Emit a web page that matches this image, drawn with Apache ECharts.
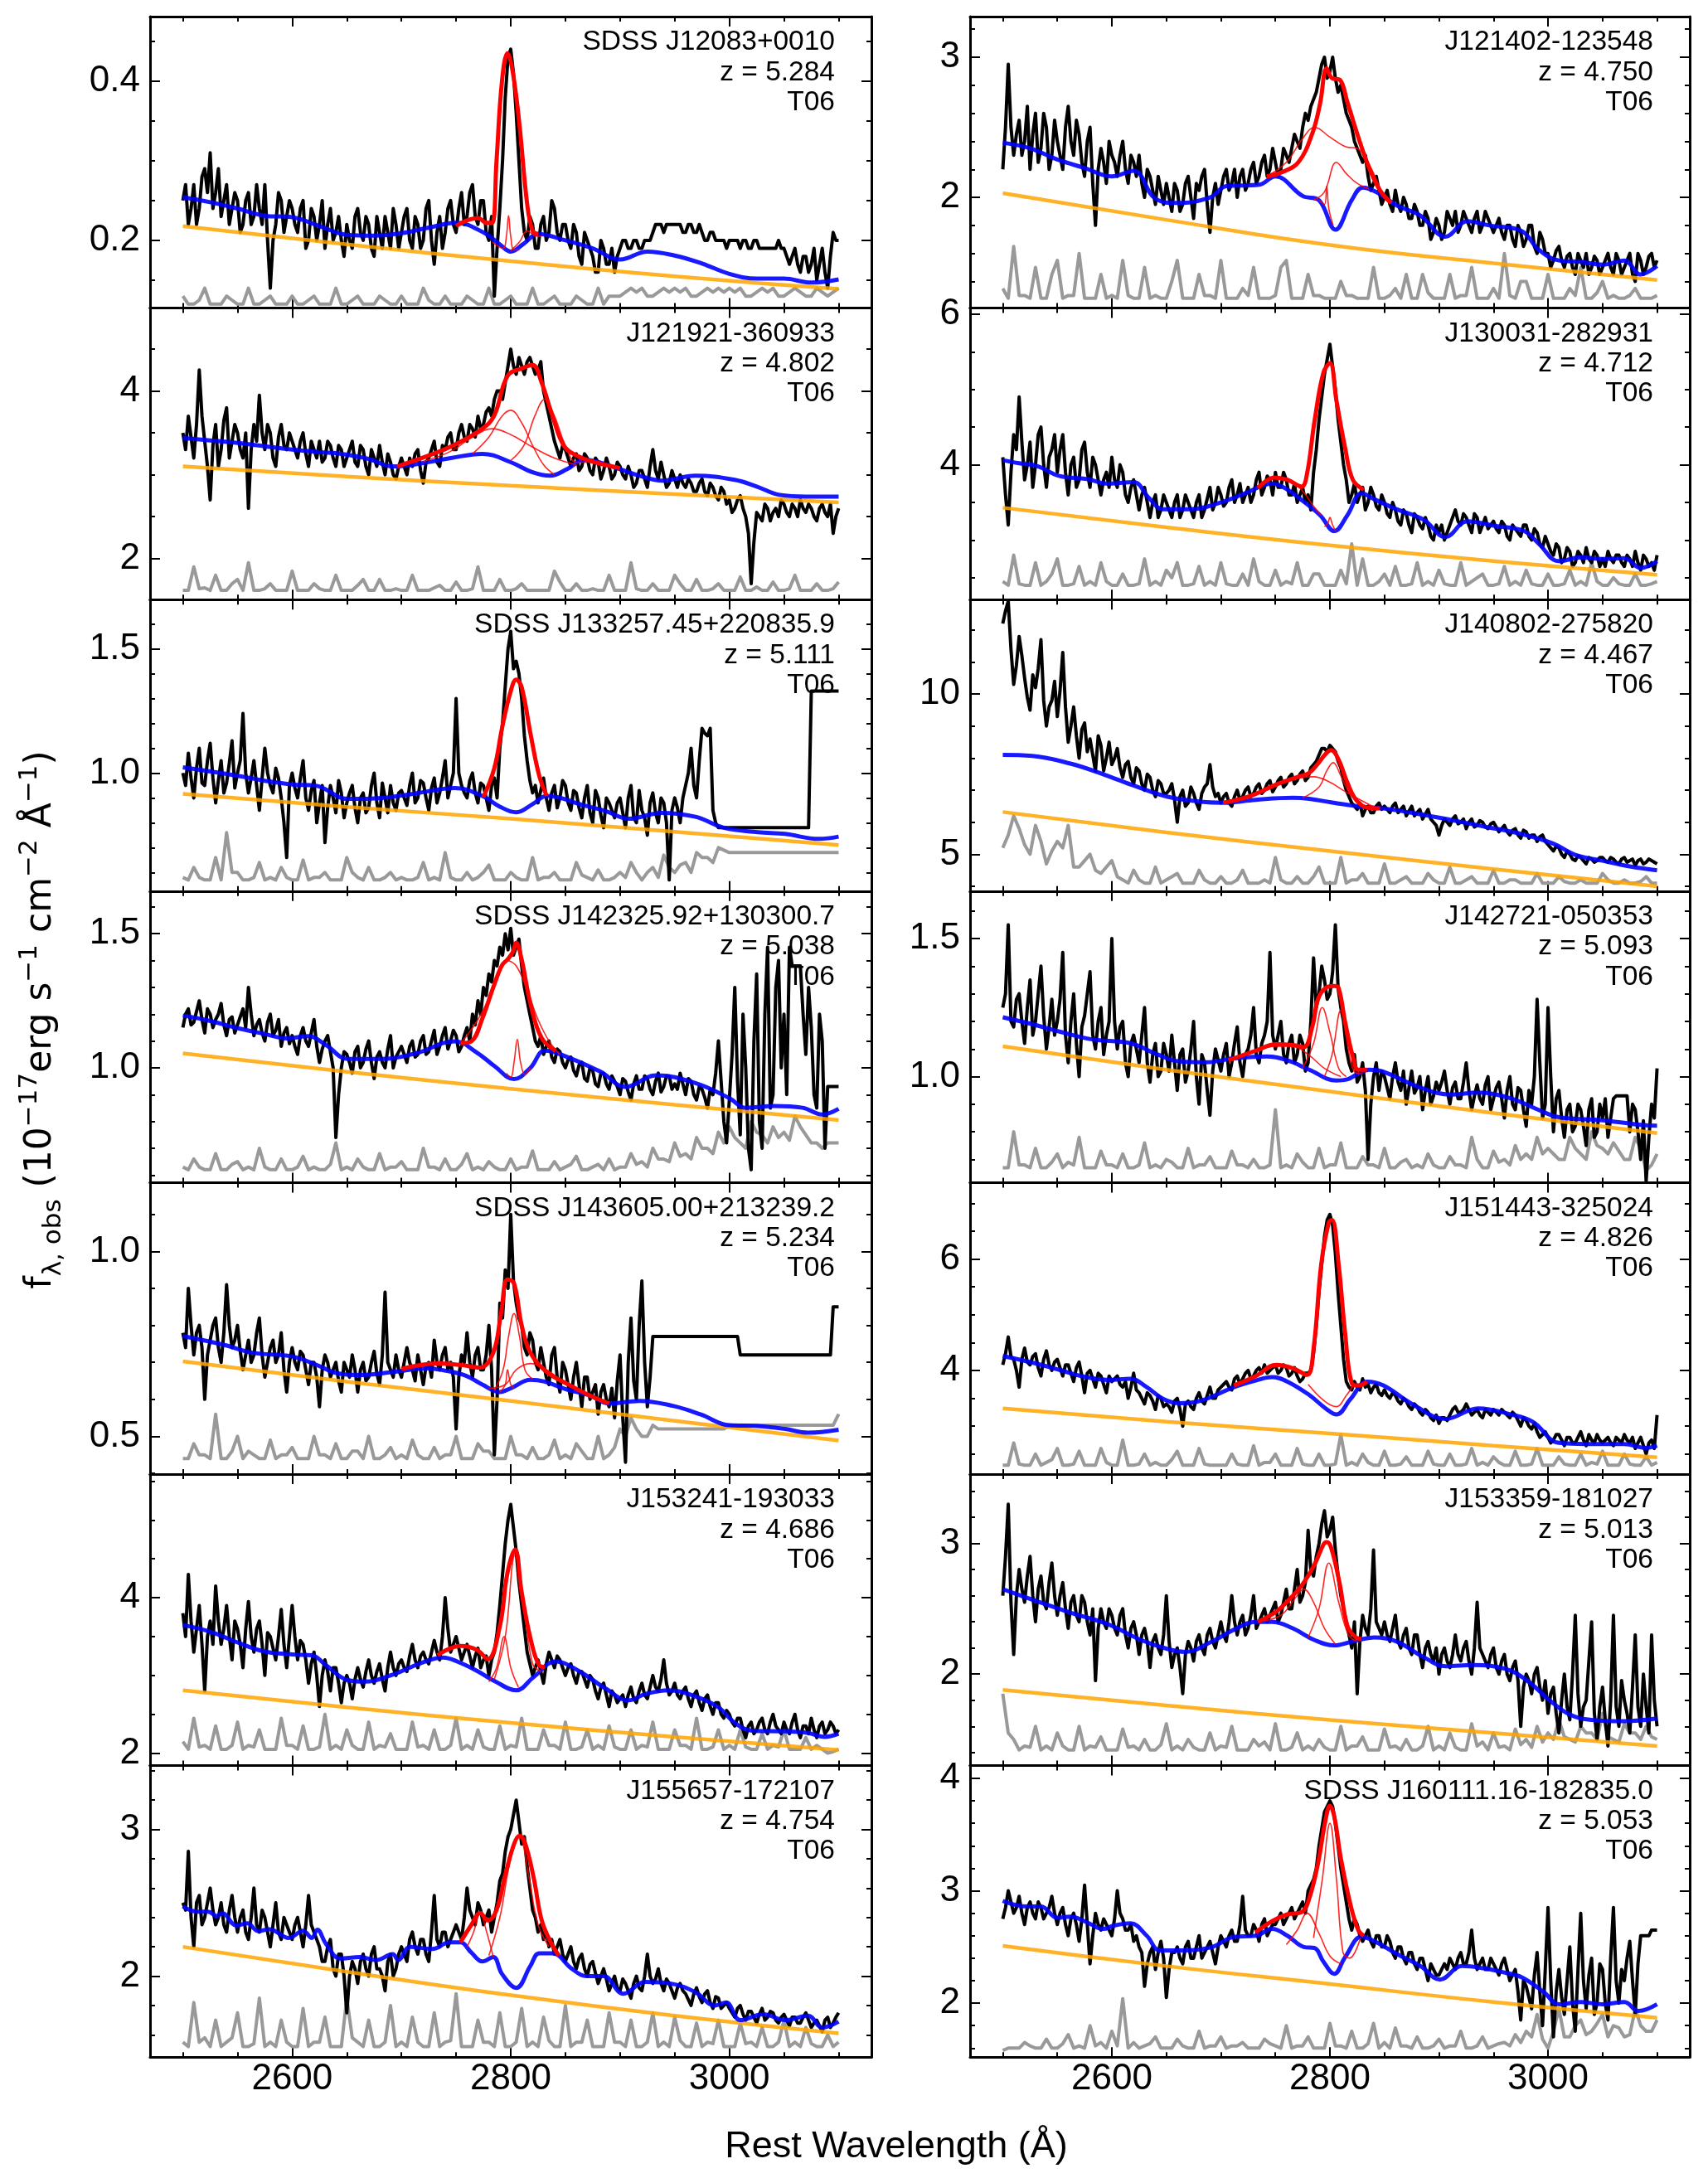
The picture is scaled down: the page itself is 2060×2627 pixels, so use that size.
<!DOCTYPE html>
<html>
<head>
<meta charset="utf-8">
<script src="https://cdn.jsdelivr.net/npm/echarts@6/dist/echarts.min.js"></script>
<style>
  html, body { margin: 0; padding: 0; background: #fff; }
  #chart { width: 2060px; height: 2627px; }
</style>
</head>
<body>
<div id="chart"></div>
<script>
// sampling grids (rest-frame Angstrom)
const WAVE = [
  2500,2505,2510,2515,2520,2525,2530,2535,2540,2545,
  2550,2555,2560,2565,2570,2575,2580,2585,2590,2595,
  2600,2605,2610,2615,2620,2625,2630,2635,2640,2645,
  2650,2655,2660,2665,2670,2675,2680,2685,2690,2695,
  2700,2705,2710,2715,2720,2725,2730,2735,2740,2745,
  2750,2755,2760,2765,2770,2775,2780,2785,2790,2795,
  2800,2805,2810,2815,2820,2825,2830,2835,2840,2845,
  2850,2855,2860,2865,2870,2875,2880,2885,2890,2895,
  2900,2905,2910,2915,2920,2925,2930,2935,2940,2945,
  2950,2955,2960,2965,2970,2975,2980,2985,2990,2995,
  3000,3005,3010,3015,3020,3025,3030,3035,3040,3045,
  3050,3055,3060,3065,3070,3075,3080,3085,3090,3095,
  3100];
const WAVE_MID = [
  2502.5,2507.5,2512.5,2517.5,2522.5,2527.5,2532.5,2537.5,2542.5,2547.5,
  2552.5,2557.5,2562.5,2567.5,2572.5,2577.5,2582.5,2587.5,2592.5,2597.5,
  2602.5,2607.5,2612.5,2617.5,2622.5,2627.5,2632.5,2637.5,2642.5,2647.5,
  2652.5,2657.5,2662.5,2667.5,2672.5,2677.5,2682.5,2687.5,2692.5,2697.5,
  2702.5,2707.5,2712.5,2717.5,2722.5,2727.5,2732.5,2737.5,2742.5,2747.5,
  2752.5,2757.5,2762.5,2767.5,2772.5,2777.5,2782.5,2787.5,2792.5,2797.5,
  2802.5,2807.5,2812.5,2817.5,2822.5,2827.5,2832.5,2837.5,2842.5,2847.5,
  2852.5,2857.5,2862.5,2867.5,2872.5,2877.5,2882.5,2887.5,2892.5,2897.5,
  2902.5,2907.5,2912.5,2917.5,2922.5,2927.5,2932.5,2937.5,2942.5,2947.5,
  2952.5,2957.5,2962.5,2967.5,2972.5,2977.5,2982.5,2987.5,2992.5,2997.5,
  3002.5,3007.5,3012.5,3017.5,3022.5,3027.5,3032.5,3037.5,3042.5,3047.5,
  3052.5,3057.5,3062.5,3067.5,3072.5,3077.5,3082.5,3087.5,3092.5,3097.5];
const ERR_WAVE = [
  2500,2510,2520,2530,2540,2550,2560,2570,2580,2590,
  2600,2610,2620,2630,2640,2650,2660,2670,2680,2690,
  2700,2710,2720,2730,2740,2750,2760,2770,2780,2790,
  2800,2810,2820,2830,2840,2850,2860,2870,2880,2890,
  2900,2910,2920,2930,2940,2950,2960,2970,2980,2990,
  3000,3010,3020,3030,3040,3050,3060,3070,3080,3090,
  3100];
const ERR_WAVE_MID = [
  2505,2515,2525,2535,2545,2555,2565,2575,2585,2595,
  2605,2615,2625,2635,2645,2655,2665,2675,2685,2695,
  2705,2715,2725,2735,2745,2755,2765,2775,2785,2795,
  2805,2815,2825,2835,2845,2855,2865,2875,2885,2895,
  2905,2915,2925,2935,2945,2955,2965,2975,2985,2995,
  3005,3015,3025,3035,3045,3055,3065,3075,3085,3095];
const PL_WAVE = [2500, 2650, 2800, 2950, 3100];

const X_MAJOR = [2600, 2800, 3000];
const X_MINOR = [2500, 2550, 2650, 2700, 2750, 2850, 2900, 2950, 3050, 3100];
const X_LIMITS = [2470, 3130];

// panels in reading order: left, right, left, right ...
const NAMES = [
  "SDSS J12083+0010", "J121402-123548",
  "J121921-360933", "J130031-282931",
  "SDSS J133257.45+220835.9", "J140802-275820",
  "SDSS J142325.92+130300.7", "J142721-050353",
  "SDSS J143605.00+213239.2", "J151443-325024",
  "J153241-193033", "J153359-181027",
  "J155657-172107", "SDSS J160111.16-182835.0"];
const REDSHIFTS = ["5.284","4.750","4.802","4.712","5.111","4.467","5.038","5.093","5.234","4.826","4.686","5.013","4.754","5.053"];
const CATALOG = ["T06","T06","T06","T06","T06","T06","T06","T06","T06","T06","T06","T06","T06","T06"];

const Y_LIMITS = [[0.115,0.481],[1.21,3.29],[1.51,4.99],[2.21,6.08],[0.525,1.698],[3.85,12.95],[0.572,1.659],
                  [0.616,1.672],[0.398,1.186],[2.14,7.37],[1.84,5.59],[1.30,3.53],[1.448,3.435],[1.52,4.113]];
const Y_TICKS = [["0.2","0.4"],["2","3"],["2","4"],["4","6"],["1.0","1.5"],["5","10"],["1.0","1.5"],
                 ["1.0","1.5"],["0.5","1.0"],["4","6"],["2","4"],["2","3"],["2","3"],["2","3","4"]];
const Y_MINOR = [0.05,0.2,0.5,0.5,0.1,1,0.1,0.1,0.1,0.5,0.5,0.2,0.2,0.2];

// observed spectrum (black) on WAVE
const FLUX = [
  [.25,.22,.27,.24,.29,.31,.26,.23,.27,.24, .25,.22,.26,.23,.24,.27,.14,.22,.25,.23,
   .24,.21,.25,.20,.23,.22,.19,.24,.21,.20, .22,.19,.24,.20,.22,.18,.21,.23,.19,.22,
   .21,.24,.19,.22,.20,.25,.17,.23,.21,.25, .21,.26,.23,.27,.22,.25,.20,.13,.24,.38,
   .44,.36,.24,.20,.22,.19,.23,.21,.24,.20, .22,.19,.21,.17,.20,.18,.16,.19,.17,.16,
   .19,.20,.19,.20,.19,.20,.21,.22,.21,.22, .22,.22,.21,.22,.21,.21,.20,.21,.20,.20,
   .20,.20,.19,.20,.19,.20,.19,.19,.19,.20, .19,.17,.19,.16,.18,.17,.15,.19,.14,.21, .20],
  [2.2,2.95,2.3,2.55,2.4,2.2,2.6,2.35,2.5,2.3, 2.4,2.2,2.65,2.3,2.45,2.15,2.5,1.8,2.35,2.1,
   2.3,2.15,2.4,2.1,2.25,2.3,2.0,2.15,1.95,2.05, 2.1,1.9,2.05,1.95,2.15,1.85,2.05,2.2,1.75,2.1,
   2.05,2.2,2.1,2.0,2.2,2.1,2.25,2.15,2.3,2.2, 2.25,2.2,2.3,2.35,2.4,2.5,2.55,2.7,2.85,3.0,
   2.9,2.85,2.8,2.6,2.5,2.35,2.25,2.15,2.1,2.05, 2.0,1.95,2.05,1.9,1.95,1.85,1.9,1.8,1.85,1.75,
   1.8,1.75,1.85,1.9,1.8,1.85,1.75,1.9,1.8,1.85, 1.75,1.85,1.7,1.8,1.65,1.75,1.7,1.8,1.6,1.7,
   1.6,1.55,1.65,1.5,1.6,1.45,1.55,1.6,1.5,1.55, 1.5,1.6,1.45,1.55,1.5,1.6,1.4,1.55,1.5,1.6, 1.55],
  [3.5,3.7,3.2,4.25,3.4,2.7,3.6,3.3,3.8,3.4, 3.5,3.2,2.6,3.6,3.95,3.3,3.5,3.1,3.6,3.3,
   3.4,3.2,3.5,3.1,3.3,3.4,3.2,3.35,3.1,3.3, 3.2,3.4,3.1,3.3,3.0,3.2,3.35,3.0,3.15,2.95,
   3.2,3.0,3.1,3.3,2.9,3.2,3.4,3.1,3.3,3.5, 3.3,3.6,3.4,3.55,3.7,3.6,3.8,3.9,4.0,4.1,
   4.5,4.2,4.3,4.35,4.3,4.25,4.0,3.7,3.4,3.2, 3.3,3.1,3.25,3.1,3.2,3.0,3.15,3.05,3.1,3.0,
   3.1,2.95,3.0,2.9,3.05,2.85,3.3,2.95,3.0,2.9, 2.95,3.0,2.85,2.9,2.8,2.95,2.75,2.85,2.7,2.8,
   2.7,2.6,2.75,2.5,1.7,2.55,2.45,2.6,2.55,2.5, 2.65,2.5,2.6,2.7,2.55,2.6,2.45,2.65,2.5,2.3, 2.6],
  [4.1,3.2,4.4,4.9,3.8,4.3,4.0,4.5,3.7,4.2, 3.9,4.4,3.6,4.1,3.8,4.3,3.7,4.0,3.6,3.9,
   4.1,3.7,3.9,3.5,3.8,3.4,3.7,3.3,3.6,3.4, 3.5,3.3,3.6,3.4,3.5,3.3,3.6,3.4,3.7,3.5,
   3.6,3.5,3.8,3.6,3.5,3.7,3.6,3.9,3.7,3.8, 3.9,3.7,3.8,3.6,3.5,3.7,3.6,3.9,4.6,5.2,
   5.6,5.0,4.3,3.8,3.6,3.5,3.7,3.5,3.6,3.4, 3.5,3.3,3.4,3.2,3.35,3.1,3.3,3.15,3.2,3.0,
   3.1,3.0,3.2,3.4,3.2,3.3,3.1,3.3,3.2,3.15, 3.25,3.1,3.2,3.0,3.15,3.05,3.2,3.0,3.1,2.9,
   2.95,2.8,2.9,2.75,2.85,2.7,2.8,2.9,2.7,2.8, 2.75,2.85,2.7,2.8,2.65,2.75,2.85,2.6,2.75,2.7, 2.8],
  [1.0,1.08,0.9,1.1,0.95,1.12,0.88,1.05,0.96,1.13, 1.0,1.24,0.92,1.05,0.85,1.1,0.95,1.02,0.9,0.66,
   1.0,0.9,1.05,0.85,0.97,0.88,0.72,0.95,0.84,0.92, 0.88,0.95,0.8,0.92,0.86,1.0,0.82,0.9,0.95,0.85,
   0.93,0.87,1.0,0.9,0.96,0.85,0.98,0.92,1.05,0.95, 1.3,0.95,0.9,1.0,0.88,0.95,0.85,0.98,1.1,1.35,
   1.57,1.45,1.3,1.05,0.92,0.88,0.98,0.85,0.95,0.9, 0.95,0.85,0.92,0.82,0.95,0.8,0.9,0.78,0.88,0.82,
   0.9,0.78,0.95,0.8,0.85,0.75,0.92,0.8,0.88,0.57, 0.9,0.8,0.95,1.1,0.9,1.18,1.15,0.85,0.78,0.78,
   0.78,0.78,0.78,0.78,0.78,0.78,0.78,0.78,0.78,0.78, 0.78,0.78,0.78,0.78,0.78,1.33,1.33,1.33,1.33,1.33, 1.33],
  [12.2,12.9,10.3,11.8,10.5,9.5,10.2,11.7,9.0,9.8, 9.3,11.3,8.5,9.6,8.0,9.1,8.6,7.6,8.4,8.0,
   7.8,8.3,7.4,7.9,7.2,7.6,7.0,7.4,6.8,7.2, 6.9,7.2,6.0,7.0,6.6,6.9,6.4,7.1,7.8,6.8,
   6.6,6.9,6.5,7.0,6.8,7.1,6.9,7.2,7.0,7.3, 7.1,7.4,7.2,7.5,7.3,7.6,7.4,7.8,8.1,8.3,
   8.4,8.2,7.7,7.0,6.6,6.4,6.2,6.5,6.3,6.6, 6.5,6.3,6.6,6.4,6.2,6.5,6.3,6.1,6.4,6.0,
   5.6,6.1,5.9,6.2,6.0,5.8,6.1,5.9,6.0,5.8, 6.0,5.7,5.9,5.6,5.8,5.5,5.7,5.6,5.4,5.6,
   5.3,5.1,5.2,4.9,5.0,4.8,4.9,4.7,4.85,4.8, 4.9,4.75,4.85,4.7,4.9,4.8,4.65,4.85,4.75,4.8, 4.7],
  [1.15,1.22,1.17,1.25,1.13,1.2,1.18,1.24,1.12,1.19, 1.16,1.22,1.3,1.12,1.18,1.1,1.2,1.14,1.08,1.15,
   1.12,1.05,1.15,1.08,1.18,1.02,1.1,1.06,0.74,1.0, 1.05,0.98,1.08,1.02,1.1,0.96,1.06,1.0,1.12,1.04,
   1.08,1.02,1.1,1.05,1.12,1.06,1.14,1.08,1.15,1.1, 1.12,1.08,1.15,1.2,1.25,1.3,1.35,1.4,1.45,1.5,
   1.52,1.45,1.38,1.25,1.15,1.08,1.05,1.1,1.02,1.06, 1.0,1.04,0.97,1.02,0.95,0.99,0.93,0.98,0.92,0.95,
   0.9,0.95,0.88,0.97,0.92,0.96,0.9,0.98,0.93,0.97, 0.94,0.98,0.9,0.95,0.88,0.92,0.85,0.9,1.1,0.8,
   0.88,1.3,0.75,1.0,0.62,1.35,0.7,1.45,0.9,1.4, 1.2,1.45,1.38,1.38,1.05,1.15,0.85,1.1,0.93,0.93, 0.93],
  [1.25,1.55,1.18,1.3,1.12,1.35,1.2,1.4,1.1,1.28, 1.2,1.45,1.05,1.3,1.0,1.22,1.38,1.1,1.25,1.15,
   1.5,1.1,1.2,1.0,1.15,1.05,1.25,0.98,1.12,1.02, 1.08,1.15,0.95,1.1,1.02,1.2,0.9,1.05,0.86,1.1,
   1.02,1.12,1.05,1.18,1.0,1.1,1.25,1.05,1.15,1.45, 1.1,1.2,1.05,1.15,1.08,1.12,1.05,1.43,1.3,1.35,
   1.3,1.55,1.25,1.1,1.02,0.98,1.05,0.7,1.0,0.95, 1.0,0.92,1.05,0.95,0.9,1.02,0.96,0.88,1.0,0.93,
   0.95,1.02,0.9,0.98,0.92,1.05,0.88,0.97,0.9,1.0, 0.92,0.98,0.85,1.0,0.88,0.95,0.82,0.9,1.28,0.85,
   1.25,0.8,0.95,0.78,0.9,0.82,0.88,0.75,0.92,0.8, 0.85,0.78,0.92,0.93,0.93,0.8,0.88,0.7,0.62,0.9, 1.03],
  [0.78,0.9,0.72,0.8,0.6,0.76,0.82,0.7,0.91,0.74, 0.8,0.68,0.76,0.72,0.82,0.66,0.74,0.7,0.78,0.62,
   0.74,0.68,0.72,0.64,0.7,0.58,0.72,0.66,0.7,0.62, 0.68,0.72,0.62,0.7,0.66,0.73,0.64,0.89,0.68,0.72,
   0.66,0.74,0.68,0.72,0.64,0.7,0.76,0.68,0.74,0.7, 0.52,0.72,0.78,0.66,0.74,0.68,0.8,0.45,0.86,0.95,
   1.1,0.86,0.8,0.72,0.76,0.68,0.7,0.64,0.74,0.62, 0.68,0.6,0.7,0.58,0.66,0.62,0.56,0.64,0.58,0.55,
   0.72,0.43,0.82,0.6,0.92,0.58,0.77,0.77,0.77,0.77, 0.77,0.77,0.77,0.77,0.77,0.77,0.77,0.77,0.77,0.77,
   0.77,0.77,0.72,0.72,0.72,0.72,0.72,0.72,0.72,0.72, 0.72,0.72,0.72,0.72,0.72,0.72,0.72,0.72,0.72,0.85, 0.85],
  [4.1,4.6,4.2,3.7,4.4,4.1,4.3,3.9,4.35,4.0, 4.2,3.9,4.1,3.8,4.15,3.6,4.0,3.7,3.9,3.6,
   3.8,3.9,3.7,3.5,3.95,3.6,3.4,3.55,3.3,3.5, 3.4,3.25,3.5,3.0,3.45,3.3,3.6,3.4,3.7,3.5,
   3.7,3.8,3.65,3.9,3.85,4.0,3.9,4.05,4.1,4.0, 4.1,4.0,4.05,3.95,3.9,3.85,3.95,4.3,5.4,6.4,
   6.8,6.1,4.8,3.8,3.65,3.7,3.85,3.75,3.7,3.6, 3.65,3.5,3.55,3.4,3.45,3.3,3.35,3.2,3.25,3.1,
   3.05,3.15,3.2,3.35,3.25,3.4,3.2,3.3,3.15,3.25, 3.3,3.2,3.25,3.15,3.2,3.0,3.1,2.95,2.9,2.85,
   2.8,2.75,2.85,2.65,2.8,2.7,2.9,2.65,2.75,2.85, 2.7,2.8,2.65,2.75,2.85,2.7,2.6,2.8,2.5,2.75, 3.2],
  [3.8,4.3,3.3,3.9,2.8,3.7,4.15,3.4,3.9,3.2, 3.6,3.1,3.95,3.3,3.7,3.0,3.5,3.2,3.85,3.1,
   3.9,3.2,3.4,2.9,3.3,2.6,3.2,2.8,3.1,2.65, 3.0,2.7,3.1,2.85,3.2,2.9,3.15,2.8,3.3,3.0,
   3.2,3.05,3.4,3.1,3.3,3.15,3.45,3.2,4.0,3.3, 3.5,3.2,3.4,3.1,3.35,3.2,3.0,3.3,3.9,4.7,
   5.2,4.6,3.9,3.3,3.0,3.2,2.9,3.3,3.1,3.2, 3.0,3.15,2.9,3.05,2.85,2.95,2.7,2.9,2.6,2.75,
   2.7,2.6,2.85,2.65,2.9,2.7,3.0,2.8,3.2,2.75, 2.9,2.7,2.85,2.6,2.8,2.55,2.75,2.5,2.65,2.45,
   2.5,2.35,2.45,2.2,2.4,2.3,2.45,2.25,2.5,2.3, 2.4,2.25,2.5,2.2,2.35,2.45,2.2,2.4,2.3,2.35, 2.3],
  [2.6,3.3,2.15,2.8,2.55,2.9,2.4,2.75,2.5,2.85, 2.45,2.7,2.35,2.6,2.4,2.55,2.3,1.95,2.5,2.35,
   2.45,2.3,2.5,2.2,2.4,2.15,2.35,2.05,2.3,2.15, 2.6,2.05,2.2,1.85,2.25,2.1,2.3,2.15,2.35,2.2,
   2.4,2.25,2.6,2.3,2.45,2.35,2.6,2.4,2.5,2.45, 2.55,2.45,2.65,2.5,2.8,2.6,3.1,2.75,3.0,3.25,
   3.1,2.95,2.6,2.4,2.2,1.85,2.45,2.3,2.95,2.35, 2.4,2.25,2.45,2.2,2.35,2.15,2.3,2.05,2.25,2.1,
   2.0,2.2,2.05,2.3,2.1,2.25,2.0,2.55,2.15,2.05, 2.2,2.0,2.15,1.95,2.1,1.6,2.0,1.85,2.05,1.8,
   1.7,1.9,1.55,2.0,1.65,2.45,1.6,1.8,2.4,1.5, 1.9,1.45,2.45,1.6,1.8,1.55,2.3,1.6,1.75,2.3, 1.6],
  [2.5,2.85,2.2,2.55,2.4,2.6,2.35,2.5,2.3,2.55, 2.3,2.45,2.25,2.6,2.3,2.4,2.2,2.5,2.25,2.35,
   2.25,2.4,2.2,2.55,2.3,2.2,2.1,2.25,2.0,2.15, 1.75,2.1,1.95,2.15,2.0,2.2,2.05,1.9,2.15,2.05,
   2.2,2.1,2.3,2.15,2.25,2.1,2.55,2.2,2.3,2.25, 2.35,2.25,2.6,2.4,2.5,2.35,2.45,2.4,2.65,2.85,
   3.0,3.2,2.9,2.75,2.45,2.3,2.25,2.2,2.15,2.25, 2.1,2.2,2.05,2.15,2.0,2.1,1.95,2.05,1.9,2.0,
   1.9,1.95,1.85,2.0,1.9,2.15,1.95,2.05,1.9,1.95, 1.85,1.95,1.88,1.8,1.92,1.82,1.9,1.78,1.85,1.8,
   1.78,1.72,1.8,1.7,1.76,1.68,1.78,1.72,1.75,1.68, 1.74,1.66,1.72,1.68,1.75,1.65,1.7,1.62,1.72,1.68, 1.75],
  [2.75,3.0,2.8,2.95,2.7,2.9,2.75,2.85,2.8,2.95, 2.7,2.85,2.6,2.8,2.55,3.05,2.35,2.8,2.65,2.7,
   2.6,3.0,2.75,2.65,2.55,2.5,2.15,2.45,2.3,2.55, 2.05,2.45,2.5,2.35,2.55,2.4,2.6,2.45,2.55,2.35,
   2.6,2.5,2.65,2.55,2.95,2.6,2.7,2.55,2.75,2.65, 2.7,2.8,2.75,2.85,2.8,2.9,3.0,3.1,3.4,3.7,
   3.8,3.6,3.2,2.9,2.65,2.7,2.55,2.65,2.5,2.6, 2.5,2.55,2.4,2.5,2.35,2.45,2.3,2.4,2.2,2.3,
   2.25,2.35,2.4,2.3,2.45,2.35,2.65,2.3,2.4,2.3, 2.35,2.25,2.4,2.2,2.3,1.85,2.15,1.95,2.45,1.8,
   2.85,1.7,2.3,1.9,2.5,1.75,2.8,1.95,2.4,2.0, 2.3,1.85,2.85,2.0,2.2,2.55,1.9,2.6,2.6,2.65, 2.65]];

// observed spectrum (black) on WAVE_MID
const FLUX_MID = [
  [.27,.24,.22,.28,.26,.24,.29,.25,.22,.26, .21,.25,.22,.27,.22,.2,.2,.26,.21,.25,
   .22,.24,.19,.24,.2,.25,.22,.2,.23,.18, .2,.23,.21,.23,.19,.23,.19,.21,.24,.19,
   .23,.2,.23,.19,.24,.2,.21,.19,.24,.22, .24,.22,.26,.23,.25,.21,.23,.19,.3,.43,
   .41,.3,.21,.23,.19,.22,.2,.25,.21,.22, .2,.22,.18,.21,.19,.16,.2,.17,.19,.18,
   .2,.19,.2,.19,.2,.2,.22,.22,.22,.22, .22,.21,.22,.21,.22,.2,.21,.2,.2,.19,
   .2,.2,.2,.19,.2,.19,.19,.19,.19,.19, .18,.18,.17,.18,.16,.19,.17,.16,.18,.2],
  [2.5,2.5,2.45,2.3,2.65,2.45,2.25,2.6,2.2,2.55, 2.3,2.5,2.4,2.55,2.25,2.4,2.1,2.2,2.25,2.4,
   2.25,2.3,2.2,2.3,2.15,2.1,2.2,2.05,2.15,1.95, 2.0,2.1,1.9,2.1,2.0,2.1,2.15,1.95,2.0,1.95,
   2.15,2.05,2.2,2.15,2.05,2.2,2.1,2.25,2.15,2.35, 2.15,2.35,2.25,2.45,2.35,2.6,2.65,2.75,2.95,2.85,
   3.0,2.75,2.7,2.55,2.4,2.3,2.3,2.05,2.15,1.95, 2.05,1.9,1.95,2.0,1.85,1.95,1.8,1.9,1.7,1.85,
   1.7,1.9,1.8,1.75,1.9,1.8,1.85,1.75,1.9,1.8, 1.8,1.75,1.8,1.7,1.8,1.65,1.8,1.65,1.75,1.6,
   1.5,1.62,1.55,1.58,1.5,1.6,1.5,1.45,1.58,1.45, 1.55,1.5,1.6,1.45,1.55,1.45,1.6,1.45,1.58,1.5],
  [3.3,3.45,3.6,3.7,3.1,3.35,3.1,3.65,3.2,3.6, 3.3,3.5,3.3,3.4,3.5,3.6,3.2,3.45,3.35,3.5,
   3.3,3.4,3.25,3.4,3.2,3.15,3.4,3.2,3.35,3.1, 3.3,3.15,3.35,3.1,3.3,3.1,3.15,3.25,3.0,3.1,
   3.1,3.2,3.25,3.05,3.15,3.3,3.15,3.35,3.45,3.3, 3.5,3.45,3.6,3.45,3.55,3.75,3.7,4.0,3.9,4.3,
   4.3,4.4,4.2,4.4,4.2,4.35,3.85,3.55,3.3,3.35, 3.2,3.2,3.05,3.25,3.05,3.2,2.95,3.2,2.95,3.15,
   3.0,3.1,2.85,3.05,2.95,3.1,3.05,3.15,2.85,3.05, 2.85,2.9,2.95,2.8,2.9,2.8,2.9,2.75,2.85,2.65,
   2.55,2.7,2.6,2.3,2.2,2.5,2.65,2.45,2.6,2.7, 2.55,2.65,2.5,2.6,2.65,2.5,2.6,2.55,2.65,2.5],
  [3.6,3.9,4.2,4.3,4.0,3.7,4.4,4.0,4.1,4.4, 4.2,3.9,4.0,3.7,4.2,3.9,4.1,3.8,3.8,3.7,
   3.8,4.0,3.6,3.7,3.6,3.6,3.5,3.5,3.3,3.6, 3.4,3.5,3.3,3.6,3.4,3.5,3.3,3.55,3.4,3.7,
   3.45,3.7,3.5,3.75,3.6,3.5,3.8,3.6,3.85,3.6, 3.7,3.9,3.6,3.75,3.6,3.5,3.4,4.2,4.9,5.4,
   5.3,4.6,4.0,3.5,3.75,3.6,3.4,3.7,3.45,3.6, 3.35,3.5,3.25,3.4,3.2,3.35,3.2,3.3,3.05,3.2,
   3.2,3.1,3.3,3.25,3.35,3.2,3.35,3.1,3.3,3.2, 3.15,3.25,3.05,3.2,3.1,3.2,3.05,3.15,2.95,3.05,
   2.85,2.95,2.7,2.9,2.65,2.85,2.7,2.75,2.85,2.65, 2.65,2.75,2.8,2.7,2.8,2.65,2.7,2.8,2.65,2.6],
  [0.95,0.98,1.02,0.96,1.05,0.98,0.97,0.92,1.04,0.94, 1.05,1.0,0.98,0.95,0.98,1.0,0.92,0.98,0.8,0.95,
   0.94,0.98,0.9,0.93,0.8,0.95,0.86,0.9,0.97,0.82, 0.92,0.86,0.9,0.84,0.95,0.88,0.96,0.84,0.88,0.92,
   0.9,0.95,0.88,0.97,0.9,0.94,0.88,0.98,0.9,1.0, 1.0,0.92,0.97,0.92,0.96,0.9,0.95,0.9,1.2,1.5,
   1.42,1.4,1.15,0.97,0.95,0.93,0.9,0.92,0.86,0.97, 0.88,0.93,0.86,0.9,0.84,0.93,0.83,0.9,0.85,0.88,
   0.84,0.9,0.82,0.93,0.82,0.88,0.84,0.9,0.8,0.85, 0.86,0.9,1.0,0.95,1.05,1.16,1.18,0.8,0.78,0.78,
   0.78,0.78,0.78,0.78,0.78,0.78,0.78,0.78,0.78,0.78, 0.78,0.78,0.78,0.78,0.78,1.33,1.33,1.33,1.33,1.33],
  [12.6,11.4,10.9,11.2,9.9,10.6,10.8,9.8,9.6,10.4, 10.1,9.6,9.0,8.7,8.9,8.2,8.1,8.7,7.6,8.5,
   8.0,7.7,7.8,7.4,7.7,7.2,7.5,7.0,7.3,6.9, 7.0,6.7,6.8,6.5,7.1,6.6,6.9,7.2,7.1,6.9,
   6.8,6.6,6.8,6.7,7.0,6.8,7.1,6.9,7.2,6.95, 7.3,7.1,7.4,7.2,7.5,7.3,7.7,7.9,8.3,8.2,
   8.3,7.9,7.3,6.8,6.5,6.6,6.4,6.3,6.5,6.4, 6.4,6.5,6.3,6.5,6.35,6.2,6.4,6.25,6.1,5.9,
   5.9,6.0,6.1,5.95,6.1,6.0,5.85,6.05,5.85,5.95, 5.85,5.8,5.7,5.75,5.6,5.75,5.5,5.6,5.55,5.4,
   5.2,5.25,5.0,5.1,4.85,4.95,4.8,4.9,4.75,4.9, 4.8,4.9,4.75,4.85,4.75,4.85,4.8,4.7,4.85,4.75],
  [1.2,1.16,1.21,1.18,1.22,1.15,1.2,1.16,1.18,1.13, 1.19,1.15,1.2,1.16,1.13,1.17,1.12,1.18,1.13,1.09,
   1.08,1.12,1.1,1.13,1.08,1.07,1.12,1.0,0.9,1.06, 1.02,1.06,1.0,1.07,1.02,1.04,1.02,1.07,1.0,1.06,
   1.05,1.08,1.04,1.1,1.05,1.1,1.05,1.12,1.07,1.14, 1.06,1.12,1.1,1.16,1.2,1.27,1.32,1.38,1.42,1.44,
   1.42,1.48,1.3,1.2,1.1,1.12,1.08,1.04,1.07,1.02, 1.03,0.99,1.01,0.96,1.0,0.94,0.98,0.94,0.97,0.93,
   0.96,0.91,0.94,0.92,0.97,0.92,0.95,0.91,0.97,0.92, 0.92,0.94,0.96,0.9,0.93,0.89,0.92,0.98,0.95,0.72,
   1.05,0.95,1.2,0.7,1.1,0.8,1.2,0.85,1.3,1.0, 0.9,1.38,1.38,1.2,1.3,0.9,1.2,0.7,0.93,0.93],
  [1.3,1.2,1.28,1.2,1.25,1.15,1.3,1.22,1.18,1.15, 1.28,1.15,1.2,1.12,1.18,1.3,1.15,1.2,1.08,1.2,
   1.2,1.18,1.05,1.12,1.1,1.15,1.05,1.08,1.0,1.12, 1.02,1.05,1.08,0.98,1.1,1.0,1.08,0.95,1.02,1.06,
   1.08,1.0,1.12,1.05,1.08,1.15,1.08,1.12,1.2,1.15, 1.15,1.08,1.12,1.05,1.15,1.02,1.2,1.25,1.4,1.28,
   1.38,1.32,1.2,1.05,1.08,1.0,0.95,0.9,1.05,1.02, 0.96,1.0,0.98,1.02,0.96,0.94,1.0,0.95,0.9,0.98,
   0.98,0.95,0.96,0.92,0.98,0.95,0.93,0.92,0.97,0.88, 0.96,0.92,0.95,0.9,0.96,0.88,0.95,1.0,1.05,0.9,
   1.0,0.92,0.85,0.88,0.8,0.9,0.82,0.88,0.78,0.9, 0.92,0.85,0.93,0.93,0.93,0.9,0.8,0.84,0.78,0.85],
  [0.74,0.8,0.78,0.74,0.72,0.8,0.74,0.78,0.8,0.76, 0.73,0.72,0.7,0.78,0.72,0.7,0.76,0.72,0.68,0.7,
   0.7,0.73,0.68,0.7,0.66,0.68,0.7,0.68,0.65,0.7, 0.66,0.68,0.68,0.65,0.7,0.67,0.72,0.7,0.66,0.68,
   0.7,0.7,0.65,0.68,0.69,0.66,0.7,0.72,0.68,0.66, 0.66,0.7,0.7,0.72,0.68,0.72,0.68,0.6,0.82,0.9,
   0.92,0.82,0.74,0.78,0.7,0.74,0.66,0.72,0.66,0.7, 0.64,0.66,0.64,0.66,0.6,0.64,0.62,0.6,0.63,0.65,
   0.55,0.7,0.65,0.8,0.7,0.66,0.77,0.77,0.77,0.77, 0.77,0.77,0.77,0.77,0.77,0.77,0.77,0.77,0.77,0.77,
   0.77,0.77,0.72,0.72,0.72,0.72,0.72,0.72,0.72,0.72, 0.72,0.72,0.72,0.72,0.72,0.72,0.72,0.72,0.72,0.85],
  [4.3,4.25,4.0,4.2,4.15,4.25,4.05,4.2,4.1,4.15, 4.05,4.1,3.95,4.05,3.9,3.95,3.85,3.95,3.75,3.9,
   3.85,3.75,3.8,3.7,3.65,3.5,3.6,3.45,3.55,3.35, 3.35,3.45,3.3,3.4,3.35,3.5,3.45,3.55,3.5,3.65,
   3.75,3.7,3.85,3.75,3.95,3.85,4.0,3.95,3.95,4.05, 3.95,4.1,3.9,4.05,3.8,3.95,4.0,4.8,5.9,6.7,
   6.6,5.4,4.2,3.7,3.8,3.65,3.7,3.6,3.75,3.55, 3.55,3.6,3.45,3.5,3.35,3.4,3.25,3.3,3.15,3.2,
   3.15,3.1,3.3,3.25,3.3,3.3,3.25,3.2,3.3,3.2, 3.25,3.3,3.2,3.25,3.1,3.15,3.0,3.05,2.8,2.9,
   2.7,2.85,2.75,2.8,2.7,2.8,2.75,2.85,2.7,2.75, 2.75,2.7,2.8,2.7,2.75,2.8,2.7,2.65,2.7,2.6],
  [3.5,3.7,3.6,3.4,3.5,3.4,3.7,3.6,3.5,3.7, 3.4,3.6,3.5,3.6,3.4,3.55,3.35,3.5,3.4,3.5,
   3.5,3.45,3.2,3.15,3.0,3.0,3.05,3.1,2.9,2.9, 2.9,2.95,2.95,3.05,3.0,3.05,2.95,3.1,3.1,3.15,
   3.1,3.25,3.2,3.25,3.2,3.3,3.3,3.5,3.6,3.4, 3.35,3.3,3.25,3.25,3.1,3.25,3.2,3.55,4.3,5.0,
   4.9,4.2,3.6,3.15,3.1,3.05,3.15,3.2,3.25,3.1, 3.1,3.0,3.05,2.95,3.0,2.8,2.85,2.75,2.8,2.65,
   2.75,2.75,2.7,2.8,2.75,2.85,2.85,2.95,2.9,2.8, 2.75,2.8,2.7,2.75,2.65,2.7,2.6,2.65,2.5,2.55,
   2.4,2.45,2.3,2.35,2.25,2.4,2.3,2.4,2.35,2.25, 2.3,2.4,2.3,2.35,2.25,2.3,2.35,2.25,2.4,2.25],
  [2.9,2.55,2.6,2.65,2.75,2.6,2.65,2.55,2.7,2.6, 2.6,2.5,2.55,2.45,2.6,2.4,2.5,2.35,2.4,2.5,
   2.35,2.45,2.3,2.35,2.3,2.3,2.25,2.25,2.2,2.3, 2.25,2.15,2.05,2.15,2.2,2.25,2.2,2.3,2.25,2.3,
   2.3,2.4,2.4,2.4,2.3,2.45,2.35,2.45,2.4,2.5, 2.4,2.55,2.5,2.65,2.55,2.7,2.8,2.9,3.15,3.05,
   3.2,2.75,2.5,2.3,2.4,2.25,2.35,2.5,2.4,2.3, 2.3,2.35,2.25,2.3,2.2,2.3,2.15,2.2,2.15,2.2,
   2.15,2.1,2.15,2.15,2.2,2.1,2.2,2.2,2.1,2.15, 2.05,2.1,2.0,2.05,1.95,1.9,1.95,2.0,1.9,1.95,
   1.85,1.7,1.8,1.75,2.0,1.85,1.75,2.1,1.7,1.75, 1.65,1.8,1.75,1.95,1.7,1.9,1.75,2.0,1.55,1.8],
  [2.45,2.4,2.5,2.35,2.5,2.45,2.4,2.35,2.45,2.4, 2.4,2.3,2.4,2.35,2.45,2.3,2.35,2.3,2.4,2.3,
   2.35,2.3,2.35,2.35,2.25,2.1,2.2,2.05,2.15,2.0, 2.0,2.05,2.1,2.05,2.15,2.05,2.0,2.1,2.0,2.15,
   2.15,2.25,2.2,2.25,2.15,2.3,2.25,2.3,2.2,2.3, 2.3,2.4,2.45,2.35,2.45,2.4,2.3,2.5,2.7,2.95,
   3.1,3.05,2.95,2.6,2.4,2.35,2.3,2.25,2.2,2.15, 2.15,2.1,2.12,2.05,2.08,2.02,2.0,1.98,1.95,1.92,
   1.98,1.9,1.95,1.92,2.0,2.0,1.98,1.95,1.98,1.9, 1.92,1.9,1.84,1.88,1.86,1.88,1.82,1.86,1.78,1.82,
   1.75,1.78,1.74,1.76,1.72,1.74,1.7,1.76,1.7,1.72, 1.7,1.72,1.68,1.72,1.7,1.68,1.66,1.7,1.65,1.72],
  [2.85,2.9,2.85,2.8,2.85,2.8,2.9,2.75,2.85,2.8, 2.8,2.7,2.75,2.7,2.75,2.7,2.6,2.7,2.75,2.65,
   2.75,2.8,2.65,2.7,2.6,2.45,2.35,2.5,2.45,2.4, 2.3,2.45,2.4,2.5,2.4,2.5,2.4,2.5,2.45,2.5,
   2.55,2.6,2.55,2.7,2.65,2.6,2.65,2.7,2.6,2.7, 2.75,2.7,2.8,2.75,2.85,2.8,3.05,3.2,3.55,3.75,
   3.75,3.4,3.05,2.75,2.75,2.6,2.6,2.55,2.6,2.5, 2.6,2.45,2.5,2.4,2.45,2.35,2.4,2.3,2.35,2.25,
   2.3,2.3,2.35,2.4,2.35,2.45,2.4,2.35,2.3,2.4, 2.3,2.35,2.3,2.25,2.1,2.2,2.05,2.25,2.1,2.3,
   2.2,2.1,2.05,2.2,2.0,2.3,2.2,2.25,1.9,2.35, 2.0,2.4,2.2,2.3,2.4,2.2,2.35,2.6,2.6,2.65]];

// flux error (grey) on ERR_WAVE
const ERROR = [
  [.13,.12,.14,.12,.13,.12,.14,.12,.13,.12, .13,.12,.13,.12,.14,.12,.13,.12,.13,.12,
   .13,.12,.14,.12,.13,.12,.13,.12,.14,.12, .13,.12,.14,.12,.13,.12,.13,.12,.14,.13,
   .13,.14,.14,.13,.14,.14,.14,.13,.14,.14, .14,.14,.13,.14,.14,.13,.14,.13,.14,.13, .14],
  [1.35,1.65,1.3,1.5,1.28,1.55,1.3,1.6,1.28,1.45, 1.3,1.55,1.28,1.5,1.3,1.28,1.55,1.28,1.45,1.3,
   1.55,1.28,1.35,1.5,1.28,1.3,1.55,1.28,1.45,1.3, 1.28,1.4,1.3,1.28,1.5,1.28,1.35,1.45,1.28,1.32,
   1.28,1.45,1.3,1.5,1.28,1.35,1.6,1.28,1.4,1.28, 1.45,1.28,1.35,1.5,1.28,1.4,1.3,1.28,1.35,1.28, 1.3],
  [1.62,1.9,1.65,1.8,1.62,1.75,1.95,1.62,1.7,1.62, 1.85,1.62,1.7,1.62,1.8,1.62,1.68,1.62,1.75,1.62,
   1.62,1.8,1.62,1.65,1.62,1.72,1.62,1.9,1.62,1.75, 1.62,1.7,1.62,1.62,1.85,1.62,1.7,1.62,1.62,1.8,
   1.62,1.95,1.62,1.7,1.62,1.8,1.62,1.75,1.62,1.7, 1.62,1.78,1.62,1.62,1.72,1.62,1.8,1.62,1.7,1.62, 1.72],
  [2.45,2.8,2.4,2.7,2.45,2.75,2.4,2.65,2.45,2.7, 2.4,2.55,2.4,2.75,2.45,2.6,2.7,2.4,2.65,2.45,
   2.7,2.4,2.55,2.75,2.4,2.6,2.45,2.7,2.4,2.55, 2.4,2.6,2.95,2.75,2.4,2.55,2.65,2.4,2.7,2.45,
   2.6,2.4,2.7,2.45,2.55,2.4,2.65,2.45,2.6,2.4, 2.55,2.4,2.6,2.45,2.7,2.4,2.5,2.4,2.55,2.4, 2.45],
  [.58,.62,.57,.66,.76,.6,.57,.64,.58,.62, .57,.65,.58,.6,.57,.66,.58,.62,.57,.6,
   .58,.57,.64,.58,.68,.57,.6,.58,.63,.57, .6,.57,.66,.58,.6,.57,.64,.58,.61,.57,
   .6,.64,.57,.62,.67,.6,.64,.68,.66,.7, .68,.68,.68,.68,.68,.68,.68,.68,.68,.68, .68],
  [5.2,6.2,5.3,5.9,4.7,5.4,5.9,4.6,5.0,4.4, 4.8,4.2,4.5,4.1,4.6,4.2,4.4,4.1,4.5,4.1,
   4.3,4.1,4.5,4.1,4.2,4.9,4.1,4.3,4.1,4.6, 4.1,4.9,4.2,4.4,4.1,4.7,4.1,4.3,4.1,4.4,
   4.1,4.6,4.1,4.3,4.1,4.5,4.1,4.2,4.1,4.4, 4.1,4.3,4.1,4.2,4.1,4.4,4.1,4.2,4.1,4.3, 4.1],
  [.63,.66,.62,.68,.62,.65,.63,.7,.62,.66, .62,.67,.63,.62,.72,.63,.66,.62,.68,.63,
   .65,.62,.7,.63,.66,.62,.68,.63,.65,.62, .66,.63,.69,.62,.65,.63,.67,.62,.64,.66,
   .63,.68,.65,.7,.66,.72,.68,.74,.7,.76, .78,.72,.8,.75,.78,.76,.82,.75,.72,.72, .72],
  [.67,.8,.68,.74,.67,.72,.69,.78,.67,.73, .68,.72,.67,.76,.68,.7,.67,.74,.68,.71,
   .67,.73,.68,.7,.67,.88,.68,.72,.67,.74, .68,.76,.67,.71,.68,.74,.67,.7,.68,.72,
   .67,.71,.68,.78,.67,.73,.7,.75,.72,.78, .74,.7,.78,.72,.8,.74,.76,.7,.78,.66, .72],
  [.44,.48,.45,.56,.44,.5,.46,.44,.49,.45, .47,.44,.5,.45,.48,.44,.46,.5,.44,.47,
   .45,.49,.44,.47,.45,.5,.44,.48,.46,.44, .5,.45,.47,.44,.49,.45,.48,.44,.5,.45,
   .52,.55,.5,.53,.52,.52,.52,.52,.52,.52, .53,.53,.53,.53,.53,.53,.53,.53,.53,.53, .56],
  [2.3,2.7,2.3,2.5,2.35,2.6,2.3,2.55,2.3,2.6, 2.3,2.75,2.3,2.5,2.35,2.3,2.55,2.3,2.6,2.3,
   2.3,2.5,2.3,2.65,2.35,2.5,2.3,2.6,2.3,2.5, 2.3,2.85,2.35,2.5,2.3,2.55,2.3,2.45,2.3,2.55,
   2.3,2.5,2.3,2.6,2.35,2.45,2.3,2.55,2.3,2.6, 2.3,2.45,2.3,2.5,2.35,2.55,2.3,2.5,2.3,2.45, 2.35],
  [2.15,2.45,2.1,2.35,2.05,2.4,2.1,2.3,2.05,2.45, 2.1,2.35,2.05,2.5,2.1,2.3,2.05,2.4,2.1,2.25,
   2.05,2.4,2.1,2.3,2.05,2.45,2.1,2.3,2.05,2.35, 2.1,2.45,2.05,2.3,2.1,2.4,2.05,2.3,2.1,2.35,
   2.05,2.3,2.1,2.4,2.05,2.3,2.1,2.45,2.05,2.3, 2.1,2.3,2.05,2.25,2.1,2.3,2.05,2.2,2.1,2.0, 2.05],
  [1.85,1.5,1.45,1.6,1.45,1.55,1.42,1.6,1.45,1.52, 1.42,1.58,1.45,1.5,1.42,1.62,1.45,1.5,1.42,1.55,
   1.45,1.6,1.42,1.5,1.48,1.62,1.42,1.55,1.45,1.5, 1.42,1.6,1.45,1.52,1.42,1.58,1.45,1.5,1.42,1.6,
   1.45,1.55,1.42,1.62,1.48,1.55,1.45,1.58,1.5,1.6, 1.55,1.65,1.5,1.6,1.55,1.7,1.5,1.62,1.55,1.6, 1.5],
  [1.55,1.82,1.58,1.7,1.55,1.75,1.52,1.85,1.55,1.7, 1.52,1.78,1.55,1.72,1.52,1.85,1.55,1.7,1.52,1.8,
   1.55,1.72,1.52,1.75,1.55,1.88,1.52,1.7,1.55,1.75, 1.52,1.78,1.55,1.72,1.52,1.8,1.55,1.7,1.52,1.75,
   1.55,1.7,1.52,1.75,1.55,1.72,1.52,1.68,1.55,1.7, 1.52,1.68,1.55,1.65,1.52,1.7,1.55,1.65,1.52,1.6, 1.55],
  [1.58,1.6,1.65,1.6,1.68,1.6,1.72,1.62,1.8,1.65, 1.75,2.04,1.65,1.62,1.7,1.6,1.68,1.6,1.75,1.62,
   1.7,1.62,1.65,1.6,1.68,1.62,1.8,1.62,1.7,1.6, 1.82,1.62,1.75,1.6,1.82,1.65,1.78,1.62,1.7,1.6,
   1.68,1.62,1.75,1.6,1.7,1.62,1.65,1.72,1.75,1.9, 1.6,1.95,1.7,1.85,1.75,1.9,1.8,1.7,1.95,1.75, 1.85]];

// flux error (grey) on ERR_WAVE_MID
const ERROR_MID = [
  [.12,.125,.12,.12,.125,.12,.12,.125,.12,.12, .12,.125,.12,.12,.12,.125,.12,.12,.125,.12,
   .12,.12,.125,.12,.12,.12,.125,.12,.12,.125, .12,.12,.12,.125,.12,.12,.125,.12,.12,.13,
   .135,.135,.13,.135,.135,.135,.13,.135,.135,.135, .135,.13,.135,.135,.13,.135,.135,.13,.135,.135],
  [1.28,1.3,1.28,1.28,1.45,1.28,1.3,1.28,1.28,1.28, 1.28,1.3,1.28,1.28,1.28,1.4,1.28,1.28,1.3,1.28,
   1.28,1.28,1.3,1.28,1.28,1.5,1.28,1.28,1.3,1.28, 1.28,1.3,1.28,1.28,1.28,1.3,1.28,1.28,1.45,1.28,
   1.28,1.28,1.3,1.28,1.28,1.28,1.3,1.4,1.28,1.28, 1.28,1.28,1.3,1.28,1.32,1.28,1.28,1.3,1.28,1.28],
  [1.62,1.64,1.62,1.62,1.7,1.62,1.62,1.64,1.62,1.62, 1.62,1.62,1.64,1.62,1.62,1.62,1.75,1.62,1.62,1.64,
   1.62,1.62,1.62,1.68,1.62,1.62,1.64,1.62,1.62,1.62, 1.64,1.62,1.62,1.62,1.72,1.62,1.62,1.64,1.62,1.62,
   1.62,1.64,1.62,1.62,1.62,1.7,1.62,1.62,1.64,1.62, 1.62,1.62,1.66,1.62,1.62,1.64,1.62,1.62,1.62,1.64],
  [2.4,2.42,2.4,2.4,2.55,2.4,2.42,2.4,2.4,2.45, 2.4,2.4,2.42,2.4,2.4,2.5,2.4,2.42,2.4,2.4,
   2.42,2.4,2.4,2.45,2.4,2.4,2.42,2.4,2.55,2.4, 2.4,2.42,2.4,2.4,2.45,2.4,2.4,2.42,2.4,2.4,
   2.42,2.4,2.4,2.5,2.4,2.42,2.4,2.4,2.42,2.4, 2.4,2.42,2.4,2.4,2.45,2.4,2.42,2.4,2.4,2.42],
  [.57,.58,.57,.57,.6,.57,.58,.57,.57,.58, .57,.57,.58,.57,.57,.6,.57,.57,.58,.57,
   .57,.58,.57,.57,.58,.57,.57,.6,.57,.57, .58,.57,.57,.58,.57,.57,.59,.57,.57,.58,
   .58,.6,.6,.58,.62,.63,.6,.66,.64,.69, .68,.68,.68,.68,.68,.68,.68,.68,.68,.68],
  [5.6,5.8,5.0,5.4,5.1,5.2,4.6,4.8,4.5,4.6, 4.3,4.1,4.2,4.1,4.1,4.3,4.1,4.1,4.2,4.1,
   4.1,4.2,4.1,4.1,4.1,4.2,4.1,4.1,4.3,4.1, 4.1,4.1,4.2,4.1,4.1,4.1,4.2,4.1,4.1,4.2,
   4.1,4.1,4.2,4.1,4.1,4.1,4.2,4.1,4.1,4.1, 4.1,4.15,4.1,4.1,4.1,4.2,4.1,4.1,4.15,4.1],
  [.62,.63,.62,.62,.64,.62,.62,.63,.62,.62, .63,.62,.62,.64,.62,.62,.63,.62,.62,.63,
   .62,.62,.63,.62,.62,.64,.62,.62,.63,.62, .62,.63,.62,.62,.62,.64,.62,.63,.62,.62,
   .63,.64,.63,.66,.65,.67,.66,.7,.68,.72, .74,.7,.76,.72,.74,.73,.78,.72,.7,.72],
  [.67,.68,.67,.67,.69,.67,.68,.67,.67,.68, .67,.67,.68,.67,.67,.69,.67,.67,.68,.67,
   .67,.68,.67,.67,.68,.67,.67,.69,.67,.67, .68,.67,.67,.68,.67,.67,.69,.67,.67,.68,
   .67,.68,.67,.7,.67,.69,.68,.7,.7,.72, .72,.7,.74,.7,.75,.72,.73,.7,.74,.68],
  [.44,.45,.44,.44,.46,.44,.45,.44,.44,.45, .44,.44,.45,.44,.44,.46,.44,.44,.45,.44,
   .44,.45,.44,.44,.45,.44,.44,.46,.44,.44, .45,.44,.44,.45,.44,.44,.46,.44,.44,.47,
   .5,.52,.5,.52,.52,.52,.52,.52,.52,.52, .53,.53,.53,.53,.53,.53,.53,.53,.53,.53],
  [2.3,2.32,2.3,2.3,2.4,2.3,2.32,2.3,2.3,2.35, 2.3,2.3,2.32,2.3,2.3,2.4,2.3,2.3,2.32,2.3,
   2.3,2.32,2.3,2.3,2.35,2.3,2.3,2.32,2.3,2.3, 2.32,2.3,2.3,2.35,2.3,2.3,2.32,2.3,2.3,2.32,
   2.3,2.3,2.32,2.3,2.3,2.35,2.3,2.3,2.32,2.3, 2.3,2.32,2.3,2.3,2.32,2.3,2.3,2.32,2.3,2.3],
  [2.05,2.08,2.05,2.05,2.1,2.05,2.08,2.05,2.05,2.1, 2.05,2.05,2.08,2.05,2.05,2.1,2.05,2.05,2.08,2.05,
   2.05,2.08,2.05,2.05,2.1,2.05,2.05,2.08,2.05,2.05, 2.08,2.05,2.05,2.1,2.05,2.05,2.08,2.05,2.05,2.08,
   2.05,2.05,2.08,2.05,2.05,2.1,2.05,2.05,2.08,2.05, 2.05,2.08,2.05,2.05,2.08,2.05,2.05,2.05,2.05,2.02],
  [1.55,1.42,1.44,1.42,1.42,1.45,1.42,1.42,1.44,1.42, 1.42,1.44,1.42,1.42,1.46,1.42,1.42,1.44,1.42,1.42,
   1.44,1.42,1.42,1.45,1.42,1.42,1.44,1.42,1.42,1.44, 1.42,1.42,1.45,1.42,1.42,1.44,1.42,1.42,1.45,1.42,
   1.42,1.44,1.42,1.45,1.42,1.44,1.42,1.46,1.44,1.48, 1.5,1.52,1.48,1.55,1.5,1.52,1.48,1.55,1.5,1.52],
  [1.52,1.55,1.52,1.52,1.58,1.52,1.54,1.52,1.52,1.55, 1.52,1.52,1.55,1.52,1.52,1.58,1.52,1.52,1.55,1.52,
   1.52,1.55,1.52,1.52,1.56,1.52,1.52,1.55,1.52,1.52, 1.55,1.52,1.52,1.56,1.52,1.52,1.55,1.52,1.52,1.55,
   1.52,1.52,1.55,1.52,1.52,1.56,1.52,1.52,1.54,1.52, 1.52,1.54,1.52,1.52,1.55,1.52,1.52,1.54,1.52,1.52],
  [1.6,1.6,1.62,1.6,1.6,1.64,1.6,1.6,1.62,1.6, 1.62,1.6,1.6,1.64,1.6,1.6,1.62,1.6,1.6,1.62,
   1.6,1.62,1.6,1.6,1.64,1.6,1.6,1.62,1.6,1.6, 1.62,1.6,1.6,1.64,1.6,1.6,1.62,1.6,1.6,1.62,
   1.6,1.62,1.6,1.62,1.6,1.64,1.62,1.65,1.7,1.68, 1.75,1.7,1.8,1.72,1.82,1.7,1.78,1.72,1.8,1.75]];

// pseudo-continuum incl. Fe II (blue), [wavelength, flux]
const CONTINUUM = [
  [[2500,.254],[2525,.248],[2550,.240],[2575,.231],[2600,.229],[2625,.218],[2650,.207],[2675,.206],[2700,.209],[2725,.216],[2750,.222],[2775,.210],[2790,.195],[2800,.186],[2812,.196],[2825,.208],[2850,.200],[2875,.190],[2900,.176],[2925,.186],[2950,.181],[2975,.171],[3000,.158],[3025,.152],[3050,.152],[3075,.147],[3100,.151]],
  [[2500,2.39],[2525,2.35],[2550,2.27],[2575,2.21],[2600,2.15],[2620,2.19],[2640,1.99],[2660,1.96],[2690,2.00],[2705,2.08],[2735,2.09],[2750,2.15],[2775,2.01],[2790,1.98],[2805,1.77],[2820,1.98],[2830,2.07],[2842,2.04],[2862,1.94],[2883,1.87],[2906,1.72],[2926,1.83],[2946,1.80],[2976,1.76],[2991,1.63],[3010,1.55],[3030,1.54],[3050,1.52],[3070,1.55],[3085,1.45],[3100,1.51]],
  [[2500,3.44],[2525,3.41],[2550,3.38],[2575,3.34],[2600,3.30],[2625,3.27],[2645,3.25],[2670,3.19],[2692,3.10],[2720,3.14],[2745,3.20],[2774,3.25],[2800,3.15],[2820,3.03],[2836,2.99],[2852,3.07],[2867,3.18],[2897,3.08],[2920,2.98],[2938,2.93],[2969,2.99],[3005,2.94],[3025,2.86],[3046,2.76],[3070,2.74],[3100,2.74]],
  [[2500,4.06],[2515,4.02],[2532,3.98],[2552,3.85],[2577,3.81],[2597,3.75],[2620,3.77],[2634,3.56],[2647,3.41],[2672,3.41],[2702,3.51],[2722,3.62],[2747,3.75],[2761,3.67],[2776,3.51],[2791,3.33],[2804,3.12],[2816,3.33],[2829,3.62],[2841,3.54],[2861,3.41],[2886,3.27],[2906,3.04],[2926,3.25],[2951,3.19],[2978,3.12],[2991,2.96],[3010,2.72],[3030,2.77],[3050,2.75],[3070,2.76],[3085,2.63],[3100,2.72]],
  [[2500,1.023],[2549,0.99],[2574,0.97],[2600,0.954],[2621,0.95],[2651,0.896],[2682,0.90],[2713,0.918],[2749,0.94],[2774,0.908],[2790,0.865],[2805,0.842],[2820,0.875],[2833,0.908],[2867,0.87],[2887,0.847],[2908,0.816],[2938,0.84],[2969,0.824],[2995,0.78],[3026,0.762],[3051,0.755],[3082,0.735],[3100,0.744]],
  [[2500,8.10],[2527,8.07],[2562,7.83],[2592,7.50],[2622,7.12],[2652,6.79],[2682,6.64],[2702,6.61],[2732,6.70],[2766,6.76],[2781,6.73],[2801,6.62],[2826,6.50],[2849,6.43],[2881,6.26],[2911,6.07],[2941,5.87],[2976,5.63],[3005,5.33],[3025,4.98],[3050,4.80],[3075,4.62],[3100,4.50]],
  [[2500,1.195],[2523,1.177],[2549,1.149],[2574,1.127],[2595,1.11],[2615,1.118],[2631,1.085],[2651,1.033],[2682,1.033],[2713,1.054],[2749,1.099],[2769,1.057],[2785,1.007],[2803,0.958],[2818,1.0],[2831,1.064],[2846,1.05],[2882,0.986],[2905,0.929],[2933,0.972],[2969,0.943],[3000,0.887],[3015,0.851],[3041,0.858],[3067,0.851],[3085,0.826],[3100,0.847]],
  [[2500,1.215],[2527,1.19],[2552,1.163],[2582,1.135],[2617,1.121],[2642,1.08],[2662,1.055],[2687,1.052],[2712,1.066],[2742,1.073],[2761,1.059],[2781,1.025],[2806,0.986],[2816,0.99],[2826,1.011],[2836,1.025],[2849,1.018],[2881,0.963],[2911,0.935],[2936,0.942],[2966,0.921],[2991,0.88],[3010,0.853],[3050,0.842],[3085,0.825],[3100,0.822]],
  [[2500,0.771],[2538,0.747],[2564,0.726],[2600,0.716],[2621,0.695],[2641,0.671],[2662,0.666],[2692,0.674],[2723,0.684],[2738,0.679],[2759,0.664],[2774,0.64],[2790,0.62],[2800,0.63],[2818,0.653],[2831,0.648],[2851,0.627],[2872,0.611],[2890,0.589],[2918,0.596],[2949,0.582],[2974,0.559],[3000,0.53],[3026,0.528],[3051,0.52],[3072,0.51],[3100,0.518]],
  [[2500,4.26],[2527,4.14],[2552,4.01],[2572,3.90],[2597,3.83],[2617,3.85],[2632,3.70],[2647,3.49],[2662,3.41],[2682,3.46],[2712,3.70],[2732,3.82],[2747,3.88],[2761,3.80],[2781,3.56],[2796,3.32],[2806,3.21],[2819,3.49],[2834,3.80],[2849,3.73],[2876,3.39],[2906,3.13],[2936,3.32],[2966,3.21],[2986,3.08],[3010,2.70],[3035,2.68],[3070,2.68],[3090,2.61],[3100,2.65]],
  [[2500,3.65],[2528,3.55],[2549,3.43],[2574,3.31],[2600,3.27],[2618,3.26],[2631,3.13],[2651,2.94],[2667,2.92],[2692,3.01],[2718,3.16],[2738,3.23],[2751,3.18],[2769,3.06],[2785,2.93],[2805,2.81],[2821,2.98],[2841,3.18],[2862,3.06],[2887,2.83],[2908,2.68],[2923,2.76],[2944,2.81],[2969,2.73],[2990,2.59],[3005,2.39],[3021,2.29],[3051,2.28],[3072,2.26],[3087,2.21],[3100,2.25]],
  [[2500,2.65],[2527,2.57],[2562,2.47],[2597,2.38],[2627,2.26],[2652,2.19],[2667,2.17],[2692,2.25],[2712,2.34],[2732,2.40],[2747,2.40],[2766,2.35],[2786,2.26],[2804,2.22],[2821,2.25],[2841,2.28],[2861,2.25],[2886,2.13],[2906,2.06],[2931,2.07],[2961,2.04],[2981,1.95],[3000,1.81],[3020,1.69],[3040,1.65],[3070,1.64],[3100,1.66]],
  [[2500,2.476],[2513,2.44],[2523,2.44],[2531,2.41],[2536,2.43],[2549,2.345],[2559,2.36],[2569,2.307],[2579,2.32],[2597,2.26],[2610,2.31],[2618,2.26],[2623,2.316],[2631,2.22],[2644,2.12],[2662,2.13],[2677,2.11],[2692,2.15],[2697,2.11],[2708,2.20],[2728,2.185],[2744,2.23],[2754,2.23],[2764,2.16],[2774,2.10],[2784,2.13],[2792,2.015],[2805,1.92],[2818,2.07],[2826,2.156],[2838,2.156],[2856,2.05],[2869,2.0],[2885,2.0],[2903,1.88],[2923,1.96],[2946,1.95],[2969,1.89],[2987,1.80],[2997,1.82],[3010,1.70],[3031,1.74],[3051,1.70],[3072,1.73],[3085,1.65],[3100,1.69]],
  [[2500,2.91],[2522,2.86],[2535,2.86],[2550,2.76],[2562,2.77],[2577,2.72],[2592,2.66],[2602,2.69],[2617,2.71],[2632,2.60],[2644,2.47],[2667,2.47],[2692,2.50],[2712,2.59],[2732,2.60],[2747,2.66],[2761,2.60],[2776,2.50],[2786,2.49],[2794,2.37],[2804,2.26],[2814,2.41],[2829,2.59],[2841,2.55],[2861,2.44],[2883,2.33],[2901,2.21],[2921,2.33],[2941,2.31],[2961,2.27],[2976,2.23],[2996,2.10],[3010,1.99],[3030,2.01],[3050,1.99],[3070,2.01],[3083,1.93],[3100,1.99]]];

// power-law continuum (orange) at PL_WAVE
const POWER_LAW = [
  [.218,.195,.174,.155,.139], [2.03,1.84,1.66,1.53,1.41],
  [3.10,2.98,2.87,2.77,2.67], [3.43,3.17,2.93,2.72,2.54],
  [0.916,0.864,0.816,0.764,0.71], [6.32,5.68,5.10,4.54,4.00],
  [1.054,0.985,0.922,0.862,0.805], [1.11,1.025,0.946,0.868,0.795],
  [0.703,0.648,0.596,0.542,0.489], [3.32,3.08,2.87,2.65,2.44],
  [2.81,2.59,2.39,2.21,2.04], [1.88,1.76,1.65,1.55,1.45],
  [2.20,2.03,1.87,1.73,1.61], [2.51,2.33,2.17,2.01,1.87]];

// total Mg II fit (thick red)
const LINE_FIT = [
  [[2750,.218],[2760,.225],[2770,.228],[2778,.222],[2783,.222],[2787,.30],[2792,.40],[2797,.435],[2802,.41],[2808,.345],[2815,.246],[2820,.212],[2825,.208]],
  [[2742,2.15],[2756,2.18],[2771,2.25],[2784,2.46],[2791,2.67],[2797,2.92],[2802,2.85],[2809,2.84],[2816,2.68],[2826,2.43],[2836,2.21],[2846,2.05],[2856,1.96]],
  [[2696,3.10],[2723,3.22],[2749,3.36],[2774,3.55],[2785,3.71],[2797,4.18],[2810,4.27],[2820,4.31],[2828,4.11],[2838,3.71],[2849,3.34],[2862,3.22],[2877,3.15],[2900,3.08]],
  [[2734,3.69],[2749,3.83],[2761,3.80],[2774,3.71],[2779,3.88],[2786,4.59],[2794,5.22],[2800,5.35],[2806,4.85],[2814,4.22],[2821,3.80],[2831,3.67]],
  [[2775,0.903],[2785,1.02],[2792,1.18],[2800,1.33],[2805,1.376],[2810,1.345],[2818,1.16],[2826,0.99],[2833,0.908]],
  [[2702,6.61],[2727,6.82],[2751,7.18],[2771,7.42],[2781,7.54],[2789,7.83],[2796,8.13],[2801,8.25],[2808,7.95],[2816,7.24],[2824,6.70],[2834,6.46],[2846,6.43]],
  [[2754,1.092],[2764,1.099],[2774,1.184],[2785,1.312],[2792,1.382],[2797,1.404],[2802,1.432],[2805,1.467],[2810,1.404],[2818,1.24],[2828,1.113],[2841,1.064]],
  [[2707,1.059],[2732,1.094],[2751,1.117],[2766,1.114],[2776,1.107],[2784,1.183],[2789,1.28],[2796,1.321],[2804,1.328],[2808,1.321],[2814,1.197],[2821,1.073],[2826,1.025],[2834,1.025]],
  [[2700,0.682],[2733,0.697],[2754,0.693],[2772,0.686],[2784,0.726],[2791,0.83],[2797,0.924],[2803,0.914],[2810,0.80],[2818,0.726],[2833,0.674],[2851,0.643],[2872,0.611],[2890,0.589]],
  [[2712,3.73],[2732,3.90],[2751,4.10],[2766,4.04],[2779,3.92],[2785,4.39],[2792,5.90],[2799,6.66],[2802,6.70],[2808,5.90],[2814,4.66],[2820,3.77],[2826,3.73],[2834,3.80]],
  [[2733,3.26],[2754,3.38],[2769,3.33],[2779,3.21],[2790,3.63],[2797,4.32],[2804,4.62],[2810,4.07],[2818,3.48],[2826,3.13],[2831,3.11]],
  [[2734,2.40],[2751,2.48],[2766,2.60],[2776,2.70],[2786,2.84],[2794,2.99],[2797,3.01],[2801,2.97],[2809,2.69],[2816,2.37],[2824,2.28],[2829,2.27]],
  [[2754,2.23],[2764,2.35],[2772,2.43],[2779,2.38],[2787,2.45],[2795,2.69],[2803,2.90],[2808,2.957],[2813,2.91],[2821,2.67],[2828,2.39],[2836,2.24],[2844,2.14]],
  [[2732,2.63],[2747,2.73],[2761,2.79],[2774,2.81],[2781,2.93],[2789,3.24],[2796,3.63],[2800,3.756],[2804,3.66],[2810,3.29],[2819,2.87],[2826,2.65],[2831,2.60]]];

// individual line components on top of the continuum (thin red)
const LINE_COMPONENTS = [
  [[[2783,.198],[2793,.190],[2796,.205],[2798,.231],[2800,.205],[2803,.188],[2808,.188]],
   [[2800,.187],[2808,.198],[2815,.212],[2822,.206],[2828,.205]]],
  [[[2742,2.15],[2760,2.25],[2775,2.42],[2786,2.50],[2800,2.43],[2815,2.36],[2825,2.35],[2835,2.25],[2845,2.08]],
   [[2790,1.98],[2795,1.95],[2797,2.08],[2799,1.92],[2803,1.80]],
   [[2785,1.98],[2795,2.04],[2806,2.25],[2815,2.17],[2825,2.10],[2836,2.06]]],
  [[[2720,3.16],[2745,3.28],[2765,3.45],[2783,3.55],[2800,3.48],[2820,3.33],[2840,3.20],[2860,3.12]],
   [[2765,3.25],[2780,3.45],[2792,3.70],[2800,3.77],[2810,3.62],[2820,3.35],[2830,3.12],[2840,3.00]],
   [[2800,3.17],[2812,3.35],[2822,3.70],[2831,3.90],[2840,3.70],[2850,3.35],[2860,3.15],[2870,3.15]]],
  [[[2734,3.69],[2750,3.82],[2762,3.80],[2775,3.65],[2785,3.45],[2792,3.33]],
   [[2795,3.18],[2798,3.22],[2800,3.30],[2802,3.22],[2805,3.12]]],
  [],
  [[[2702,6.61],[2730,6.85],[2755,7.22],[2775,7.40],[2785,7.42],[2800,7.25],[2812,7.0],[2825,6.75],[2840,6.48]],
   [[2775,6.76],[2790,7.1],[2797,7.6],[2803,7.86],[2810,7.45],[2818,6.9],[2828,6.55]]],
  [[[2754,1.09],[2770,1.18],[2785,1.30],[2797,1.40],[2805,1.38],[2815,1.29],[2825,1.18],[2835,1.10],[2845,1.05]],
   [[2796,0.98],[2800,0.965],[2803,1.02],[2806,1.106],[2809,1.02],[2813,0.975],[2818,1.0]]],
  [[[2707,1.06],[2730,1.09],[2750,1.11],[2765,1.11],[2780,1.08],[2795,1.03],[2810,1.0]],
   [[2775,1.03],[2785,1.12],[2793,1.25],[2800,1.16],[2808,1.03],[2815,1.0]],
   [[2795,1.0],[2802,1.08],[2810,1.24],[2816,1.12],[2822,1.02],[2830,1.01]]],
  [[[2785,0.625],[2793,0.68],[2798,0.77],[2803,0.832],[2808,0.77],[2813,0.68],[2820,0.655]],
   [[2780,0.63],[2795,0.64],[2805,0.68],[2818,0.697],[2830,0.685],[2845,0.655],[2860,0.625]],
   [[2790,0.62],[2795,0.64],[2797,0.68],[2800,0.64],[2803,0.63]]],
  [[[2780,3.75],[2795,3.45],[2806,3.35],[2815,3.55],[2822,3.75]]],
  [[[2780,2.92],[2787,3.1],[2794,3.50],[2800,3.1],[2807,2.85]],
   [[2785,2.95],[2795,3.5],[2804,4.55],[2812,3.9],[2820,3.15],[2828,3.05]]],
  [[[2734,2.40],[2755,2.45],[2768,2.58],[2776,2.65],[2785,2.55],[2795,2.35],[2805,2.23]],
   [[2780,2.28],[2790,2.5],[2799,2.85],[2808,2.55],[2817,2.30],[2825,2.25]]],
  [[[2760,2.20],[2766,2.30],[2772,2.43],[2778,2.30],[2784,2.13]],
   [[2780,2.14],[2790,2.4],[2800,2.8],[2808,2.95],[2816,2.7],[2825,2.35],[2835,2.2]]],
  [[[2760,2.52],[2770,2.65],[2779,2.80],[2790,2.62],[2800,2.42],[2810,2.35]],
   [[2785,2.58],[2793,3.1],[2800,3.60],[2806,3.1],[2812,2.45],[2818,2.40],[2828,2.58]]]];

// ---- layout ----
const COL_LEFT = [181, 1170];
const COL_WIDTH = [870, 868];
const TOP = 20, ROW_H = 351.6;
const FONT = "'Liberation Sans', Arial, Helvetica, sans-serif";
const MATH_FONT = "'DejaVu Sans', sans-serif";

const chart = echarts.init(document.querySelector("#chart"), null, { renderer: "canvas" });

const pairs = (xs, ys) => xs.map((x, i) => [x, ys[i]]);
// merge a grid with its mid-points: a0, b0, a1, b1, ..., an
const interleave = (a, b) => a.flatMap((v, i) => i < b.length ? [v, b[i]] : [v]);

function minorValues(min, max, step, majors) {
  const out = [];
  for (let k = Math.ceil(min / step - 1e-9); k * step <= max + 1e-9; k++) {
    const v = +(k * step).toFixed(4);
    if (!majors.some(m => Math.abs(m - v) < 1e-6)) out.push(v);
  }
  return out;
}

function makeAxis(gridIndex, position, limits, ticks, len, withLine, labels) {
  return {
    type: "value", gridIndex, position, min: limits[0], max: limits[1],
    axisLine: { show: withLine, onZero: false, lineStyle: { color: "#000", width: 3 } },
    axisTick: { show: true, inside: true, length: len, customValues: ticks, lineStyle: { color: "#000", width: 2 } },
    axisLabel: labels ? {
      show: true, customValues: ticks, formatter: labels.fmt, margin: labels.margin,
      color: "#000", fontSize: 44, fontFamily: FONT
    } : { show: false },
    splitLine: { show: false },
    minorTick: { show: false },
    minorSplitLine: { show: false }
  };
}

const grids = [], xAxes = [], yAxes = [], series = [], texts = [];
const fluxWave = interleave(WAVE, WAVE_MID);
const errWave = interleave(ERR_WAVE, ERR_WAVE_MID);

NAMES.forEach((name, p) => {
  const col = p % 2, row = Math.floor(p / 2);
  const box = { left: COL_LEFT[col], top: TOP + row * ROW_H, width: COL_WIDTH[col], height: ROW_H };
  const g = grids.length;
  grids.push({ ...box, containLabel: false, outerBoundsMode: "none" });
  grids.push({ ...box, containLabel: false, outerBoundsMode: "none" });

  const yMajor = Y_TICKS[p].map(Number);
  const yMinor = minorValues(Y_LIMITS[p][0], Y_LIMITS[p][1], Y_MINOR[p], yMajor);
  const yFmt = v => Y_TICKS[p][yMajor.findIndex(m => Math.abs(m - v) < 1e-6)] ?? "";
  const bottomRow = row === NAMES.length / 2 - 1;

  const xi = xAxes.length, yi = yAxes.length;
  xAxes.push(makeAxis(g, "bottom", X_LIMITS, X_MAJOR, 12, true, bottomRow ? { fmt: v => String(v), margin: 5 } : null));
  xAxes.push(makeAxis(g, "top", X_LIMITS, X_MAJOR, 12, true, null));
  xAxes.push(makeAxis(g + 1, "bottom", X_LIMITS, X_MINOR, 6, false, null));
  xAxes.push(makeAxis(g + 1, "top", X_LIMITS, X_MINOR, 6, false, null));
  yAxes.push(makeAxis(g, "left", Y_LIMITS[p], yMajor, 12, true, { fmt: yFmt, margin: 12 }));
  yAxes.push(makeAxis(g, "right", Y_LIMITS[p], yMajor, 12, true, null));
  yAxes.push(makeAxis(g + 1, "left", Y_LIMITS[p], yMinor, 6, false, null));
  yAxes.push(makeAxis(g + 1, "right", Y_LIMITS[p], yMinor, 6, false, null));

  const base = { type: "line", xAxisIndex: xi, yAxisIndex: yi, showSymbol: false, symbol: "none", silent: true, animation: false, clip: true };
  series.push({ ...base, data: pairs(errWave, interleave(ERROR[p], ERROR_MID[p])), z: 2, lineStyle: { color: "#999999", width: 4, join: "round" } });
  series.push({ ...base, data: pairs(fluxWave, interleave(FLUX[p], FLUX_MID[p])), z: 3, lineStyle: { color: "#000000", width: 4, join: "round" } });
  series.push({ ...base, data: pairs(PL_WAVE, POWER_LAW[p]), smooth: 0.5, z: 4, lineStyle: { color: "#ffa500", width: 4.5, opacity: 0.85 } });
  series.push({ ...base, data: CONTINUUM[p], smooth: 0.4, z: 5, lineStyle: { color: "#0000ff", width: 5, opacity: 0.9 } });
  LINE_COMPONENTS[p].forEach(c => {
    series.push({ ...base, data: c, smooth: 0.4, z: 6, lineStyle: { color: "#ff0000", width: 1.6, opacity: 0.85 } });
  });
  series.push({ ...base, data: LINE_FIT[p], smooth: 0.4, z: 7, lineStyle: { color: "#ff0000", width: 5 } });

  const right = box.left + box.width - 44;
  [name, "z = " + REDSHIFTS[p], CATALOG[p]].forEach((t, i) => {
    texts.push({
      type: "text", x: right, y: box.top + 31 + i * 36.3, z: 20,
      style: { text: t, fill: "#000", font: `33.5px ${FONT}`, align: "right", textAlign: "right", verticalAlign: "middle", textVerticalAlign: "middle" }
    });
  });
});

texts.push({
  type: "text", x: 1081, y: 2590, z: 20,
  style: { text: "Rest Wavelength (Å)", fill: "#000", font: `45px ${FONT}`, align: "center", textAlign: "center", verticalAlign: "middle", textVerticalAlign: "middle" }
});
texts.push({
  type: "text", x: 50, y: 1230, rotation: Math.PI / 2, z: 20,
  style: {
    text: "{m|f}{s|λ, obs}{m| (10}{p|−17}{m|erg s}{p|−1}{m| cm}{p|−2}{m| Å}{p|−1}{m|)}",
    align: "center", textAlign: "center", verticalAlign: "middle", textVerticalAlign: "middle",
    rich: {
      m: { fontSize: 44, fontFamily: MATH_FONT, fill: "#000", lineHeight: 60, verticalAlign: "middle" },
      p: { fontSize: 31, fontFamily: MATH_FONT, fill: "#000", lineHeight: 30, verticalAlign: "top" },
      s: { fontSize: 31, fontFamily: MATH_FONT, fill: "#000", lineHeight: 30, verticalAlign: "bottom" }
    }
  }
});

chart.setOption({
  animation: false,
  backgroundColor: "#ffffff",
  textStyle: { fontFamily: FONT },
  grid: grids,
  xAxis: xAxes,
  yAxis: yAxes,
  series,
  graphic: { elements: texts }
});
</script>
</body>
</html>
